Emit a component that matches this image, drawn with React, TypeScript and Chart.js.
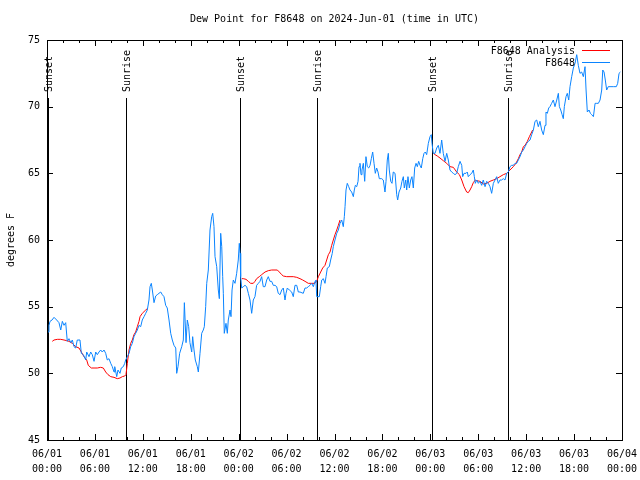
import React, { useEffect, useRef } from "react";
import { Chart, registerables } from "chart.js";

Chart.register(...registerables);

const TITLE = "Dew Point for F8648 on 2024-Jun-01 (time in UTC)";
const Y_TITLE = "degrees F";
const LEGEND_ANALYSIS = "F8648 Analysis";
const LEGEND_OBS = "F8648";

const X_TICK_HOURS = [0, 6, 12, 18, 24, 30, 36, 42, 48, 54, 60, 66, 72];
const X_TICK_DATES = ["06/01", "06/01", "06/01", "06/01", "06/02", "06/02", "06/02", "06/02", "06/03", "06/03", "06/03", "06/03", "06/04"];
const X_TICK_TIMES = ["00:00", "06:00", "12:00", "18:00", "00:00", "06:00", "12:00", "18:00", "00:00", "06:00", "12:00", "18:00", "00:00"];
const Y_TICKS = [45, 50, 55, 60, 65, 70, 75];

const SUN_LABELS = ["Sunset", "Sunrise", "Sunset", "Sunrise", "Sunset", "Sunrise"];
const SUN_HOURS = [0.13, 9.85, 24.22, 33.77, 48.25, 57.77];

// F8648 observations: hours since 06/01 00:00 UTC and dew point (F)
const obsHours = [
  0.13, 0.25, 0.38, 0.63, 0.88, 1.21, 1.5, 1.72, 1.92, 2.13, 2.34, 2.54, 2.75, 2.97, 3.17, 3.38, 3.59, 3.79, 4.13, 4.3,
  4.55, 4.85, 4.97, 5.26, 5.47, 5.67, 5.89, 6.1, 6.3, 6.51, 6.72, 6.92, 7.14, 7.35, 7.55, 7.76, 7.98, 8.18, 8.39, 8.48,
  8.73, 8.89, 9.14, 9.3, 9.55, 9.73, 9.85, 10.06, 10.27, 10.48, 10.68, 10.89, 11.1, 11.31, 11.52, 11.73, 11.93, 12.15, 12.36, 12.56,
  12.77, 12.9, 13.06, 13.19, 13.4, 13.61, 13.81, 14.02, 14.24, 14.44, 14.65, 14.86, 15.06, 15.28, 15.49, 15.69, 15.9, 16.12, 16.24, 16.4,
  16.61, 16.87, 17.07, 17.2, 17.41, 17.57, 17.74, 17.9, 18.12, 18.24, 18.41, 18.57, 18.82, 18.95, 19.16, 19.37, 19.57, 19.7, 19.87, 20.0,
  20.2, 20.41, 20.62, 20.75, 20.91, 21.04, 21.25, 21.45, 21.58, 21.75, 21.88, 22.0, 22.08, 22.2, 22.41, 22.58, 22.7, 22.92, 23.04, 23.17,
  23.33, 23.54, 23.75, 23.95, 24.08, 24.17, 24.25, 24.38, 24.58, 24.79, 25.0, 25.21, 25.42, 25.63, 25.83, 26.04, 26.25, 26.46, 26.67, 26.88,
  27.08, 27.3, 27.51, 27.71, 27.92, 28.13, 28.34, 28.55, 28.76, 28.96, 29.18, 29.39, 29.59, 29.8, 29.93, 30.09, 30.34, 30.64, 30.84, 31.05,
  31.27, 31.47, 31.68, 32.09, 32.31, 32.52, 32.72, 32.93, 33.15, 33.35, 33.56, 33.68, 33.77, 34.1, 34.27, 34.4, 34.6, 34.81, 34.94, 35.1,
  35.35, 35.52, 35.72, 35.85, 36.06, 36.28, 36.48, 36.69, 36.9, 37.1, 37.23, 37.32, 37.44, 37.6, 37.78, 37.94, 38.15, 38.36, 38.48, 38.61,
  38.78, 38.95, 39.07, 39.19, 39.32, 39.44, 39.61, 39.78, 39.94, 40.11, 40.28, 40.45, 40.61, 40.78, 40.95, 41.11, 41.28, 41.45, 41.61, 41.91,
  42.11, 42.32, 42.45, 42.61, 42.74, 42.86, 43.04, 43.2, 43.36, 43.58, 43.79, 43.91, 44.08, 44.29, 44.45, 44.62, 44.74, 44.92, 45.04, 45.2,
  45.37, 45.54, 45.7, 45.87, 46.04, 46.21, 46.37, 46.54, 46.71, 46.87, 47.05, 47.21, 47.37, 47.54, 47.75, 47.96, 48.12, 48.21, 48.37, 48.59,
  48.8, 49.0, 49.21, 49.42, 49.62, 49.84, 50.05, 50.25, 50.46, 50.67, 50.88, 51.09, 51.3, 51.5, 51.72, 51.93, 52.05, 52.22, 52.47, 52.63,
  52.75, 52.97, 53.18, 53.38, 53.51, 53.63, 53.81, 54.01, 54.22, 54.43, 54.63, 54.85, 55.06, 55.26, 55.47, 55.68, 55.89, 56.1, 56.31, 56.51,
  56.72, 56.93, 57.14, 57.35, 57.56, 57.77, 57.97, 58.18, 58.39, 58.6, 58.81, 59.02, 59.23, 59.44, 59.65, 59.86, 60.07, 60.27, 60.48, 60.69,
  60.9, 61.11, 61.32, 61.52, 61.73, 61.94, 62.15, 62.36, 62.48, 62.65, 62.82, 62.98, 63.19, 63.4, 63.61, 63.83, 64.03, 64.16, 64.33, 64.5,
  64.65, 64.78, 64.99, 65.15, 65.33, 65.49, 65.7, 65.91, 66.12, 66.33, 66.53, 66.74, 66.95, 67.16, 67.37, 67.5, 67.66, 67.87, 68.04, 68.21,
  68.42, 68.63, 68.84, 69.04, 69.25, 69.46, 69.59, 69.75, 69.91, 70.08, 70.28, 70.5, 70.91, 71.29, 71.46, 71.63, 71.8,
];
const obsDew = [
  53.1, 53.6, 53.9, 54.0, 54.2, 54.0, 53.8, 53.25, 53.9, 53.6, 53.8, 52.4, 52.6, 52.3, 52.5, 52.0, 51.9, 52.5, 52.5, 51.5,
  51.4, 51.0, 51.6, 51.25, 51.6, 51.4, 50.9, 51.6, 51.4, 51.6, 51.75, 51.6, 51.75, 51.5, 51.0, 51.1, 50.75, 50.5, 50.1, 50.5,
  49.75, 50.25, 50.0, 50.4, 50.5, 50.75, 51.0, 51.25, 51.5, 52.0, 52.25, 52.75, 53.0, 53.25, 53.6, 53.5, 54.0, 54.25, 54.5, 54.75,
  55.5, 56.5, 56.75, 56.25, 55.3, 55.8, 55.9, 56.0, 56.1, 55.9, 55.75, 55.1, 54.9, 54.0, 53.0, 52.5, 52.1, 51.9, 50.0, 50.5,
  51.5, 52.0, 52.5, 55.3, 52.3, 54.0, 53.5, 52.3, 51.6, 52.75, 51.75, 51.0, 50.5, 50.1, 51.5, 53.0, 53.25, 53.5, 55.0, 56.75,
  57.75, 60.75, 61.75, 62.0, 61.0, 58.75, 58.0, 56.25, 55.6, 60.5, 59.5, 57.25, 56.0, 53.0, 53.75, 53.0, 54.0, 54.75, 54.25, 56.25,
  57.0, 56.75, 57.5, 58.5, 59.75, 59.0, 57.25, 56.4, 56.5, 56.6, 56.5, 56.0, 55.5, 54.5, 55.5, 55.75, 56.6, 56.75, 56.9, 57.25,
  56.5, 56.5, 57.0, 57.25, 56.9, 56.9, 56.6, 56.6, 56.5, 56.0, 55.9, 56.25, 56.4, 55.5, 56.0, 56.4, 56.25, 56.1, 55.75, 56.6,
  56.6, 56.1, 56.1, 56.0, 56.4, 56.4, 56.5, 56.6, 56.75, 56.5, 56.9, 57.0, 55.75, 55.75, 56.5, 57.0, 57.1, 56.75, 57.25, 57.9,
  58.0, 58.5, 59.0, 59.5, 60.0, 60.5, 60.75, 61.25, 61.5, 61.0, 61.75, 62.5, 63.75, 64.25, 64.0, 63.75, 63.6, 63.25, 63.75, 64.1,
  64.0, 64.4, 65.5, 65.75, 64.9, 65.25, 65.75, 64.4, 66.25, 65.5, 65.4, 65.6, 66.1, 66.6, 65.75, 65.0, 65.4, 65.1, 64.6, 64.6,
  64.5, 63.6, 64.4, 66.0, 66.5, 65.25, 64.4, 64.25, 65.1, 65.0, 63.4, 63.0, 63.6, 63.9, 64.4, 64.75, 63.9, 64.5, 63.75, 64.75,
  63.9, 64.5, 64.75, 63.9, 65.4, 65.75, 65.5, 65.9, 65.6, 65.4, 66.1, 66.5, 66.6, 66.4, 67.25, 67.75, 67.9, 67.25, 66.5, 66.5,
  66.9, 67.1, 66.5, 67.5, 66.5, 65.9, 66.5, 66.0, 65.25, 65.1, 65.0, 64.9, 65.0, 65.5, 65.9, 65.6, 64.75, 65.0, 65.0, 65.1,
  64.75, 64.9, 65.0, 65.25, 64.75, 64.25, 64.5, 64.25, 64.4, 64.1, 64.5, 64.0, 64.4, 64.25, 64.0, 63.5, 64.25, 64.5, 64.75, 64.25,
  64.5, 64.5, 64.6, 64.5, 65.0, 65.1, 65.5, 65.6, 65.6, 65.75, 65.75, 66.0, 66.25, 66.6, 66.75, 67.0, 67.25, 67.4, 67.5, 67.9,
  68.25, 68.9, 69.0, 68.5, 68.9, 68.25, 67.9, 68.6, 69.6, 69.5, 69.9, 70.0, 70.25, 70.5, 70.0, 70.5, 71.0, 70.0, 69.75, 69.4,
  69.1, 70.0, 70.75, 71.0, 70.5, 71.5, 72.25, 72.9, 73.25, 73.9, 73.1, 72.5, 72.6, 72.25, 73.0, 71.25, 69.6, 69.75, 69.5, 69.4,
  69.25, 70.25, 70.25, 70.25, 70.5, 71.25, 72.75, 72.6, 72.0, 71.25, 71.5, 71.5, 71.5, 71.5, 71.75, 72.5, 72.6,
];

// F8648 Analysis: three separate segments
const anaHours1 = [0.66, 0.88, 1.29, 1.72, 2.13, 2.47, 2.75, 3.17, 3.59, 4.01, 4.3, 4.63, 4.97, 5.17, 5.55, 5.89, 6.3, 6.72, 7.05, 7.35, 7.64, 7.98, 8.39, 8.8, 9.14, 9.43, 9.73, 9.89, 10.06, 10.27, 10.48, 10.68, 10.89, 11.1, 11.31, 11.52, 11.65, 11.93, 12.36, 12.65];
const anaDew1 = [52.4, 52.5, 52.55, 52.55, 52.5, 52.45, 52.4, 52.25, 52.0, 51.9, 51.6, 51.25, 51.0, 50.6, 50.4, 50.4, 50.4, 50.45, 50.4, 50.1, 49.9, 49.75, 49.7, 49.6, 49.65, 49.75, 49.8, 49.9, 50.75, 51.75, 52.25, 52.5, 52.9, 53.1, 53.5, 53.9, 54.25, 54.5, 54.75, 54.9];
const anaHours2 = [24.4, 24.58, 24.92, 25.21, 25.5, 25.83, 26.04, 26.25, 26.58, 26.88, 27.3, 27.71, 28.13, 28.55, 28.84, 29.09, 29.39, 29.59, 30.01, 30.43, 30.84, 31.27, 31.68, 32.02, 32.31, 32.72, 33.15, 33.56, 33.77, 33.98, 34.27, 34.52, 34.81, 35.02, 35.23, 35.44, 35.65, 35.85, 36.06, 36.28, 36.48, 36.69];
const anaDew2 = [57.1, 57.1, 57.05, 56.9, 56.75, 56.75, 56.9, 57.1, 57.25, 57.4, 57.6, 57.7, 57.75, 57.75, 57.75, 57.6, 57.4, 57.3, 57.25, 57.25, 57.25, 57.2, 57.1, 57.0, 56.9, 56.75, 56.75, 56.75, 56.9, 57.25, 57.6, 57.9, 58.1, 58.5, 58.9, 59.1, 59.6, 60.0, 60.4, 60.75, 61.1, 61.5];
const anaHours3 = [48.4, 48.59, 48.87, 49.21, 49.62, 50.05, 50.46, 50.88, 51.3, 51.64, 51.93, 52.22, 52.55, 52.75, 52.97, 53.18, 53.38, 53.63, 53.81, 54.22, 54.63, 55.06, 55.47, 55.89, 56.31, 56.72, 57.14, 57.56, 57.97, 58.39, 58.72, 59.02, 59.23, 59.44, 59.65, 59.86, 60.15, 60.4, 60.69, 60.81];
const anaDew3 = [66.5, 66.4, 66.3, 66.15, 65.95, 65.75, 65.5, 65.45, 65.1, 64.9, 64.5, 64.0, 63.6, 63.55, 63.75, 64.0, 64.3, 64.5, 64.45, 64.4, 64.2, 64.25, 64.4, 64.5, 64.6, 64.75, 64.9, 65.0, 65.25, 65.5, 65.75, 66.1, 66.4, 66.6, 67.0, 67.1, 67.4, 67.75, 68.1, 68.25];

const BLUE = "#0a84ff";
const RED = "#ff0000";
const FONT = "10px 'DejaVu Sans Mono', 'Liberation Mono', monospace";

function toPoints(hs: number[], vs: number[]) {
  return hs.map((h, i) => ({ x: h, y: vs[i] }));
}

const decorPlugin = {
  id: "gnuplotDecor",
  beforeDatasetsDraw(chart: any) {
    const { ctx, chartArea, scales } = chart;
    const xs = scales.x;
    ctx.save();
    ctx.strokeStyle = "#000";
    ctx.lineWidth = 1;
    ctx.fillStyle = "#000";
    ctx.font = FONT;
    SUN_HOURS.forEach((h, i) => {
      const px = Math.round(xs.getPixelForValue(h)) + 0.5;
      ctx.beginPath();
      ctx.moveTo(px, 98);
      ctx.lineTo(px, chartArea.bottom);
      ctx.stroke();
      ctx.save();
      ctx.translate(px + 1, 92);
      ctx.rotate(-Math.PI / 2);
      ctx.textAlign = "left";
      ctx.textBaseline = "middle";
      ctx.fillText(SUN_LABELS[i], 0, 0);
      ctx.restore();
    });
    ctx.restore();
  },
  afterDatasetsDraw(chart: any) {
    const { ctx, chartArea, scales } = chart;
    const xs = scales.x;
    const ys = scales.y;
    const { left, right, top, bottom } = chartArea;
    ctx.save();
    ctx.strokeStyle = "#000";
    ctx.fillStyle = "#000";
    ctx.lineWidth = 1;
    // border
    ctx.strokeRect(left + 0.5, top + 0.5, right - left, bottom - top);
    // x ticks (major 6h, minor 2h), mirrored top
    ctx.beginPath();
    for (let h = 0; h <= 72; h += 2) {
      const px = Math.round(xs.getPixelForValue(h)) + 0.5;
      const len = h % 6 === 0 ? 6 : 3;
      ctx.moveTo(px, bottom);
      ctx.lineTo(px, bottom - len);
      ctx.moveTo(px, top);
      ctx.lineTo(px, top + len);
    }
    // y ticks mirrored right
    Y_TICKS.forEach((v) => {
      const py = Math.round(ys.getPixelForValue(v)) + 0.5;
      ctx.moveTo(left, py);
      ctx.lineTo(left + 6, py);
      ctx.moveTo(right, py);
      ctx.lineTo(right - 6, py);
    });
    ctx.stroke();

    ctx.font = FONT;
    // y labels
    ctx.textAlign = "right";
    ctx.textBaseline = "middle";
    Y_TICKS.forEach((v) => {
      ctx.fillText(String(v), 40, ys.getPixelForValue(v));
    });
    // x labels
    ctx.textAlign = "center";
    X_TICK_HOURS.forEach((h, i) => {
      const px = xs.getPixelForValue(h);
      ctx.fillText(X_TICK_DATES[i], px, 454);
      ctx.fillText(X_TICK_TIMES[i], px, 469);
    });
    // title
    ctx.fillText(TITLE, (left + right) / 2, 19);
    // y title
    ctx.save();
    ctx.translate(11, (top + bottom) / 2);
    ctx.rotate(-Math.PI / 2);
    ctx.fillText(Y_TITLE, 0, 0);
    ctx.restore();
    // legend
    ctx.textAlign = "right";
    ctx.fillText(LEGEND_ANALYSIS, 575, 51);
    ctx.fillText(LEGEND_OBS, 575, 63);
    ctx.lineWidth = 1;
    ctx.strokeStyle = RED;
    ctx.beginPath();
    ctx.moveTo(582, 50.5);
    ctx.lineTo(610, 50.5);
    ctx.stroke();
    ctx.strokeStyle = BLUE;
    ctx.beginPath();
    ctx.moveTo(582, 62.5);
    ctx.lineTo(610, 62.5);
    ctx.stroke();
    ctx.restore();
  },
};

export default function App() {
  const ref = useRef<HTMLCanvasElement | null>(null);
  useEffect(() => {
    document.body.style.margin = "0";
    const canvas = ref.current;
    if (!canvas) return;
    const gap = { x: NaN, y: null as any };
    const analysis = [
      ...toPoints(anaHours1, anaDew1),
      { x: 18, y: null as any },
      ...toPoints(anaHours2, anaDew2),
      { x: 42, y: null as any },
      ...toPoints(anaHours3, anaDew3),
    ];
    void gap;
    const chart = new Chart(canvas, {
      type: "line",
      data: {
        datasets: [
          {
            label: LEGEND_OBS,
            data: toPoints(obsHours, obsDew),
            borderColor: BLUE,
            borderWidth: 1,
            pointRadius: 0,
            tension: 0,
            fill: false,
          },
          {
            label: LEGEND_ANALYSIS,
            data: analysis,
            borderColor: RED,
            borderWidth: 1,
            pointRadius: 0,
            tension: 0,
            fill: false,
            spanGaps: false,
          },
        ],
      },
      options: {
        animation: false,
        responsive: false,
        devicePixelRatio: 1,
        layout: { padding: { left: 47, right: 18, top: 40, bottom: 40 } },
        scales: {
          x: { type: "linear", min: 0, max: 72, display: false },
          y: { type: "linear", min: 45, max: 75, display: false },
        },
        plugins: {
          legend: { display: false },
          tooltip: { enabled: false },
          title: { display: false },
        },
        events: [],
      },
      plugins: [decorPlugin],
    });
    return () => chart.destroy();
  }, []);
  return (
    <div style={{ width: 640, height: 480, background: "#fff" }}>
      <canvas ref={ref} width={640} height={480} style={{ display: "block" }} />
    </div>
  );
}
